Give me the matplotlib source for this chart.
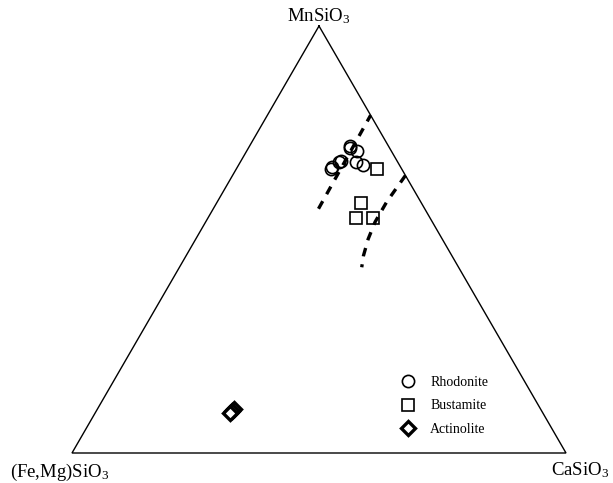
import matplotlib
matplotlib.use("Agg")
import matplotlib.pyplot as plt
import numpy as np

plt.rcParams["font.family"] = ["Liberation Serif", "DejaVu Serif"]
plt.rcParams["mathtext.fontset"] = "custom"
plt.rcParams["mathtext.rm"] = "Liberation Serif"
plt.rcParams["mathtext.it"] = "Liberation Serif:italic"

# 三元組成（MnSiO3, (Fe,Mg)SiO3, CaSiO3）
rho_mn = [0.720, 0.714, 0.707, 0.685, 0.682, 0.670, 0.664, 0.682, 0.674]
rho_ca = [0.202, 0.206, 0.223, 0.203, 0.200, 0.191, 0.192, 0.234, 0.252]

bus_mn = [0.664, 0.586, 0.551, 0.551]
bus_ca = [0.285, 0.293, 0.299, 0.333]

act_mn = [0.104, 0.099, 0.094]
act_ca = [0.276, 0.274, 0.273]

# 虛線界線
l1_mn = [0.572, 0.791]
l1_ca = [0.213, 0.209]
l2_mn = [0.650, 0.588, 0.541, 0.501, 0.462, 0.435]
l2_ca = [0.350, 0.343, 0.343, 0.349, 0.359, 0.369]

# 三角形頂點（圖內座標）
LEFT = (72, 453)
RIGHT = (566, 453)
TOP = (319, 26)


def tern(mn, ca):
    mn = np.asarray(mn)
    ca = np.asarray(ca)
    fe = 1 - mn - ca
    x = mn * TOP[0] + fe * LEFT[0] + ca * RIGHT[0]
    y = mn * TOP[1] + fe * LEFT[1] + ca * RIGHT[1]
    return x, y


fig = plt.figure(figsize=(6.13, 4.83), dpi=100)
ax = fig.add_axes([0, 0, 1, 1])
ax.set_xlim(0, 613)
ax.set_ylim(483, 0)
ax.axis("off")

tx, ty = tern([1, 0, 0, 1], [0, 0, 1, 0])
ax.plot(tx, ty, color="black", lw=1.0, solid_joinstyle="miter")

for mn, ca in [(l1_mn, l1_ca), (l2_mn, l2_ca)]:
    x, y = tern(mn, ca)
    ax.plot(x, y, color="black", lw=2.4, dashes=(2.6, 2.4), dash_capstyle="butt")

x, y = tern(rho_mn, rho_ca)
ax.plot(x, y, "o", ms=8.8, mfc="none", mec="black", mew=1.2, label="Rhodonite")
x, y = tern(bus_mn, bus_ca)
ax.plot(x, y, "s", ms=8.5, mfc="none", mec="black", mew=1.2, label="Bustamite")
x, y = tern(act_mn, act_ca)
ax.plot(x, y, "D", ms=7.5, mfc="white", mec="black", mew=2.4, label="Actinolite")

lab = dict(fontsize=13.5, color="black", va="baseline")
ax.text(TOP[0], 21, "MnSiO$_3$", ha="center", **lab)
ax.text(10, 477, "(Fe,Mg)SiO$_3$", ha="left", **lab)
ax.text(551, 475, "CaSiO$_3$", ha="left", **lab)

leg = ax.legend(loc="upper left", bbox_to_anchor=(401 / 613, 1 - 376 / 483),
                frameon=False, fontsize=10, borderpad=0, borderaxespad=0,
                handlelength=1.0, handletextpad=1.1, labelspacing=0.75)

fig.savefig("out.png", dpi=100)
